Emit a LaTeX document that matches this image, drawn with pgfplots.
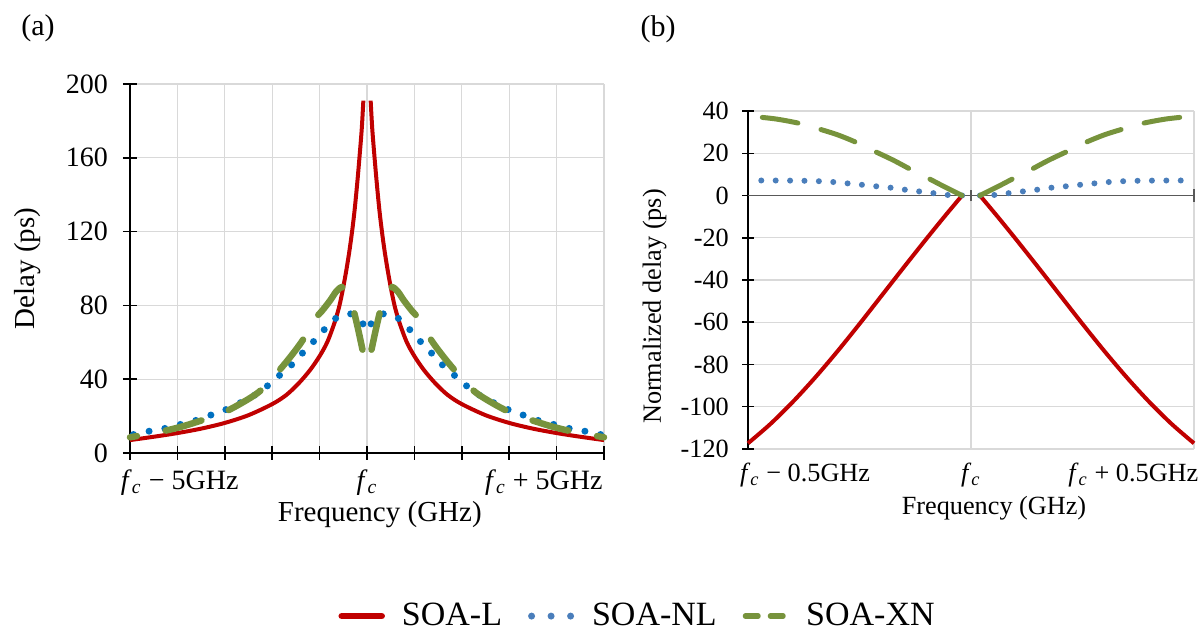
\documentclass[border=0pt]{standalone}
\usepackage{fontspec}
\setmainfont{Liberation Serif}
\usepackage{pgfplots}
\pgfplotsset{compat=1.18}

\definecolor{cred}{HTML}{C00000}
\definecolor{cblueA}{HTML}{0070C0}
\definecolor{cblueB}{HTML}{4A7EBB}
\definecolor{cgreen}{HTML}{77933C}
\definecolor{cgrid}{HTML}{D9D9D9}

\newcommand{\fc}{\textit{f}\textsubscript{\textit{c}}}
\newcommand{\fa}{\fontsize{11.6}{13}\selectfont}
\newcommand{\fat}{\fontsize{11.2}{13}\selectfont}
\newcommand{\fb}{\fontsize{10.5}{12}\selectfont}
\newcommand{\fl}{\fontsize{13.6}{15}\selectfont}

\begin{document}
\begin{tikzpicture}
\useasboundingbox (0pt,0pt) rectangle (480.4pt,252pt);
\node[font=\fontsize{12}{14}\selectfont] at (15.2pt,240.8pt) {(a)};
\node[font=\fontsize{12}{14}\selectfont] at (263.2pt,240.4pt) {(b)};

% ---------------- panel (a)
\begin{axis}[
  at={(52pt,70.8pt)}, anchor=south west,
  scale only axis, width=189.6pt, height=147.6pt,
  xmin=-5, xmax=5, ymin=0, ymax=200,
  axis lines*=left,
  axis line style={black, line width=0.6pt},
  xtick={-5,-4,...,5}, xticklabels={,,,,,,,,,,},
  ytick={0,40,...,200},
  tick align=center,
  major tick length=5.6pt,
  tick style={black, line width=0.6pt},
  grid=major, grid style={cgrid, line width=0.5pt},
  extra x ticks={-3.95,0,3.73},
  extra x tick labels={{\fc{} − 5GHz},{\fc},{\fc{} + 5GHz}},
  extra x tick style={grid=none, major tick length=0pt, xticklabel style={yshift=-3pt}},
  tick label style={font=\fat},
  /pgf/number format/assume math mode=true,
  yticklabel style={xshift=-2.5pt},
  xlabel={Frequency (GHz)}, ylabel={Delay (ps)},
  label style={font=\fa},
  xlabel style={at={(axis description cs:0.527,-0.167)}, anchor=center},
  ylabel style={at={(axis description cs:-0.216,0.5)}, anchor=center},
  clip=false,
  legend style={at={(axis description cs:1.074,-0.442)}, anchor=center, draw=none, fill=none,
    font=\fl, /tikz/every even column/.append style={column sep=8.4pt},
    /tikz/every odd column/.append style={column sep=4.8pt}},
  legend columns=3, legend cell align=left,
]
\addlegendimage{legend image code/.code={\draw[cred, line width=2.6pt, line cap=round] (0pt,0pt) -- (16pt,0pt);}}
\addlegendentry{SOA-L}
\addlegendimage{legend image code/.code={\draw[cblueB, line width=2.8pt, line cap=round, dash pattern=on 0pt off 7.8pt] (1pt,0pt) -- (17pt,0pt);}}
\addlegendentry{SOA-NL}
\addlegendimage{legend image code/.code={\draw[cgreen, line width=2.1pt, line cap=round, dash pattern=on 5.1pt off 4.9pt] (1pt,0pt) -- (17.5pt,0pt);}}
\addlegendentry{SOA-XN}

% red SOA-L
\addplot[cred, line width=1.6pt, smooth, forget plot] coordinates {
(-5,7) (-4.5,8.8) (-4,10.8) (-3.5,13.2) (-3,16.3) (-2.5,20.5) (-2,26.5) (-1.7,31.5)
(-1.44,37.8) (-1.2,45) (-1.0,52.5) (-0.84,60) (-0.7,69.5) (-0.6,78) (-0.53,86)
(-0.45,97) (-0.38,108) (-0.32,119) (-0.26,132) (-0.2,148) (-0.15,163) (-0.11,176) (-0.077,191)};
\addplot[cred, line width=1.6pt, smooth, forget plot] coordinates {
(0.077,191) (0.11,176) (0.15,163) (0.2,148) (0.26,132) (0.32,119) (0.38,108) (0.45,97)
(0.53,86) (0.6,78) (0.7,69.5) (0.84,60) (1.0,52.5) (1.2,45) (1.44,37.8) (1.7,31.5)
(2,26.5) (2.5,20.5) (3,16.3) (3.5,13.2) (4,10.8) (4.5,8.8) (5,7)};

% blue SOA-NL (center outward)
\addplot[cblueA, line width=2.8pt, line cap=round, dash pattern=on 0pt off 6.4pt, smooth, forget plot] coordinates {
(-0.085,70) (-0.2,73) (-0.34,75.4) (-0.5,74.8) (-0.65,73.2) (-0.89,67.2) (-1.11,60.9)
(-1.36,54.2) (-1.59,47.8) (-1.84,42.2) (-2.08,36.8) (-2.36,31.5) (-2.66,27.4) (-2.96,23.7)
(-3.28,20.7) (-3.59,17.8) (-3.92,15.6) (-4.25,13.4) (-4.56,12.0) (-4.91,10.1) (-5,9.7)};
\addplot[cblueA, line width=2.8pt, line cap=round, dash pattern=on 0pt off 6.4pt, smooth, forget plot] coordinates {
(0.085,70) (0.2,73) (0.34,75.4) (0.5,74.8) (0.65,73.2) (0.89,67.2) (1.11,60.9)
(1.36,54.2) (1.59,47.8) (1.84,42.2) (2.08,36.8) (2.36,31.5) (2.66,27.4) (2.96,23.7)
(3.28,20.7) (3.59,17.8) (3.92,15.6) (4.25,13.4) (4.56,12.0) (4.91,10.1) (5,9.7)};

% green SOA-XN (center outward)
\addplot[cgreen, line width=2.6pt, line cap=round, dash pattern=on 14.9pt off 11.7pt, smooth, forget plot] coordinates {
(-0.095,56) (-0.2,68.5) (-0.31,80) (-0.42,87) (-0.53,89.9) (-0.65,87.5) (-0.78,82.6)
(-0.95,77) (-1.13,71.7) (-1.36,61) (-1.65,51) (-1.94,42.2) (-2.27,33.3) (-2.65,27)
(-3.07,21.4) (-3.52,17.4) (-3.95,14) (-4.38,11.4) (-5,8.5)};
\addplot[cgreen, line width=2.6pt, line cap=round, dash pattern=on 14.9pt off 11.7pt, smooth, forget plot] coordinates {
(0.095,56) (0.2,68.5) (0.31,80) (0.42,87) (0.53,89.9) (0.65,87.5) (0.78,82.6)
(0.95,77) (1.13,71.7) (1.36,61) (1.65,51) (1.94,42.2) (2.27,33.3) (2.65,27)
(3.07,21.4) (3.52,17.4) (3.95,14) (4.38,11.4) (5,8.5)};
\end{axis}

% ---------------- panel (b)
\begin{axis}[
  at={(299.2pt,72.4pt)}, anchor=south west,
  scale only axis, width=178.4pt, height=135.2pt,
  xmin=-0.5, xmax=0.5, ymin=-120, ymax=40,
  axis lines*=left,
  axis line style={black, line width=0.6pt},
  x axis line style={draw=none},
  xtick={-0.5,0,0.5}, xticklabels={,,},
  xtick style={draw=none},
  ytick={-120,-100,...,40},
  yticklabels={-120,-100,-80,-60,-40,-20,0,20,40},
  tick align=center, major tick length=4.5pt,
  ytick style={black, line width=0.6pt},
  grid=major, grid style={cgrid, line width=0.5pt},
  extra x ticks={-0.372,0,0.364},
  extra x tick labels={{\fc{} − 0.5GHz},{\fc},{\fc{} + 0.5GHz}},
  extra x tick style={grid=none, major tick length=0pt, xticklabel style={yshift=-2pt}},
  tick label style={font=\fb},
  yticklabel style={xshift=-1.9pt},
  xlabel={Frequency (GHz)}, ylabel={Normalized delay (ps)},
  label style={font=\fb},
  xlabel style={at={(axis description cs:0.5516,-0.1746)}, anchor=center},
  ylabel style={at={(axis description cs:-0.2096,0.4216)}, anchor=center},
  clip=false,
]
\addplot[black!65, line width=0.6pt] coordinates {(-0.5,0) (0.5,0)};
\addplot[black!65, line width=0.6pt] coordinates {(0,-2.8) (0,2.8)};
\addplot[black!65, line width=0.6pt] coordinates {(0.5,-3) (0.5,3)};

% red
\addplot[cred, line width=1.6pt, smooth] coordinates {
(-0.5,-117.3) (-0.45,-108.2) (-0.4,-97.8) (-0.35,-86.3) (-0.3,-73.9) (-0.25,-60.8)
(-0.2,-47.3) (-0.15,-33.8) (-0.1,-20.5) (-0.06,-10.1) (-0.02,0)};
\addplot[cred, line width=1.6pt, smooth] coordinates {
(0.02,0) (0.06,-10.1) (0.1,-20.5) (0.15,-33.8) (0.2,-47.3) (0.25,-60.8) (0.3,-73.9)
(0.35,-86.3) (0.4,-97.8) (0.45,-108.2) (0.5,-117.3)};

% blue
\addplot[cblueB, line width=2.4pt, line cap=round, dash pattern=on 0pt off 5.76pt, smooth] coordinates {
(-0.02,0) (-0.05,0.2) (-0.08,1.0) (-0.115,1.9) (-0.15,2.8) (-0.18,3.7) (-0.215,4.4)
(-0.25,5.2) (-0.28,5.8) (-0.31,6.4) (-0.345,6.8) (-0.38,7.0) (-0.44,7.1) (-0.5,7.1)};
\addplot[cblueB, line width=2.4pt, line cap=round, dash pattern=on 0pt off 5.76pt, smooth] coordinates {
(0.02,0) (0.05,0.2) (0.08,1.0) (0.115,1.9) (0.15,2.8) (0.18,3.7) (0.215,4.4)
(0.25,5.2) (0.28,5.8) (0.31,6.4) (0.345,6.8) (0.38,7.0) (0.44,7.1) (0.5,7.1)};

% green
\addplot[cgreen, line width=2pt, line cap=round, dash pattern=on 14.4pt off 9.6pt, smooth] coordinates {
(-0.02,0) (-0.06,4.2) (-0.1,8.6) (-0.134,12.2) (-0.175,16.8) (-0.217,21) (-0.259,25.3)
(-0.3,28.8) (-0.3425,31.6) (-0.386,34.2) (-0.44,36.3) (-0.5,37.6)};
\addplot[cgreen, line width=2pt, line cap=round, dash pattern=on 14.4pt off 9.6pt, smooth] coordinates {
(0.02,0) (0.06,4.2) (0.1,8.6) (0.134,12.2) (0.175,16.8) (0.217,21) (0.259,25.3)
(0.3,28.8) (0.3425,31.6) (0.386,34.2) (0.44,36.3) (0.5,37.6)};
\end{axis}
\end{tikzpicture}
\end{document}
